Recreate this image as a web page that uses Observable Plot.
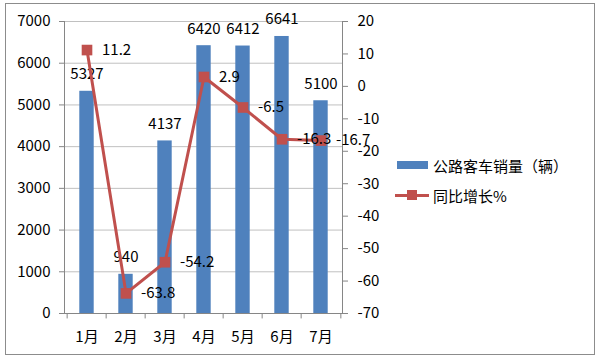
<!DOCTYPE html>
<html><head><meta charset="utf-8">
<script src="https://cdn.jsdelivr.net/npm/d3@7"></script>
<script src="https://cdn.jsdelivr.net/npm/@observablehq/plot@0.6"></script>
<style>
body{margin:0;background:#fff;}
#wrap{position:relative;width:600px;height:361px;overflow:hidden;font-family:"Noto Sans CJK SC","Liberation Sans",sans-serif;}
#border{position:absolute;left:5px;top:3px;width:590px;height:352px;border:1px solid #8c8c8c;box-sizing:border-box;pointer-events:none;}
#legend{position:absolute;left:395px;top:150px;font-size:15px;color:#000;}
.li{display:flex;align-items:center;height:30px;}
.sw{width:34px;height:12px;position:relative;margin-right:4px;}
</style>
</head><body>
<div id="wrap"><div id="chart"></div><div id="border"></div><div id="legend"></div></div>
<script>
const months = ["1月","2月","3月","4月","5月","6月","7月"];
const sales = [5327,940,4137,6420,6412,6641,5100];
const growth = [11.2,-63.8,-54.2,2.9,-6.5,-16.3,-16.7];
const leftTicks = [0,1000,2000,3000,4000,5000,6000,7000];
const rightTicks = [-70,-60,-50,-40,-30,-20,-10,0,10,20];
const seriesNames = ["公路客车销量（辆）","同比增长%"];

const BLUE = "#4F81BD", RED = "#C0504D", AXIS = "#868686", GRID = "#c0c0c0";
const leftDomain = [0,7000], rightDomain = [-70,20];
const toLeft = r => (r - rightDomain[0]) / (rightDomain[1]-rightDomain[0]) * (leftDomain[1]-leftDomain[0]) + leftDomain[0];
const toRight = v => (v - leftDomain[0]) / (leftDomain[1]-leftDomain[0]) * (rightDomain[1]-rightDomain[0]) + rightDomain[0];

const data = months.map((m,i)=>({m, v:sales[i], g:growth[i], gl:toLeft(growth[i])}));

const W=600,H=361,ML=64,MR=258,MT=21,MB=48;
const bw = (W-ML-MR)/months.length;

const chart = Plot.plot({
  width:W, height:H, marginLeft:ML, marginRight:MR, marginTop:MT, marginBottom:MB,
  style:{fontSize:"15px", fontFamily:"'Noto Sans CJK SC','Liberation Sans',sans-serif", background:"transparent", color:"#000"},
  x:{type:"band", domain:months, padding:0},
  y:{domain:leftDomain},
  marks:[
    Plot.gridY(leftTicks, {stroke:GRID, strokeOpacity:1}),
    Plot.barY(data, {x:"m", y:"v", fill:BLUE, insetLeft:12.3, insetRight:12.3}),
    Plot.frame({anchor:"left", stroke:AXIS}),
    Plot.frame({anchor:"right", stroke:AXIS}),
    Plot.frame({anchor:"bottom", stroke:AXIS}),
    Plot.ruleX(months, {x:d=>d, dx:-bw/2, y1:0, y2:-130, stroke:AXIS}),
    Plot.ruleX([months[months.length-1]], {x:d=>d, dx:bw/2, y1:0, y2:-130, stroke:AXIS}),
    Plot.axisY(leftTicks, {anchor:"left", tickSize:5, tickPadding:9, stroke:AXIS, fill:"#000", label:null, tickFormat:d=>String(d)}),
    Plot.axisY(rightTicks.map(toLeft), {anchor:"right", tickSize:5, tickPadding:10, stroke:AXIS, fill:"#000", label:null, tickFormat:v=>String(Math.round(toRight(v)))}),
    Plot.axisX({anchor:"bottom", tickSize:0, tickPadding:18, fill:"#000", label:null}),
    Plot.text(data, {x:"m", y:"v", text:d=>String(d.v), dy:-17, fill:"#000"}),
    Plot.line(data, {x:"m", y:"gl", stroke:RED, strokeWidth:3}),
    Plot.dot(data, {x:"m", y:"gl", symbol:"square", r:6, fill:RED, stroke:"none"}),
    Plot.text(data, {x:"m", y:"gl", text:d=>String(d.g), dx:15, textAnchor:"start", fill:"#000"})
  ]
});
document.getElementById("chart").appendChild(chart);

const legend = document.getElementById("legend");
seriesNames.forEach((name,i)=>{
  const row = document.createElement("div"); row.className="li";
  const sw = document.createElement("div"); sw.className="sw";
  if(i===0){
    sw.innerHTML = `<div style="position:absolute;left:2px;top:2px;width:31px;height:8px;background:${BLUE}"></div>`;
  } else {
    sw.innerHTML = `<div style="position:absolute;left:0;top:5px;width:34px;height:3px;background:${RED}"></div><div style="position:absolute;left:12px;top:1px;width:10px;height:10px;background:${RED}"></div>`;
  }
  const t = document.createElement("span"); t.textContent = name;
  row.appendChild(sw); row.appendChild(t); legend.appendChild(row);
});
</script>
</body></html>
